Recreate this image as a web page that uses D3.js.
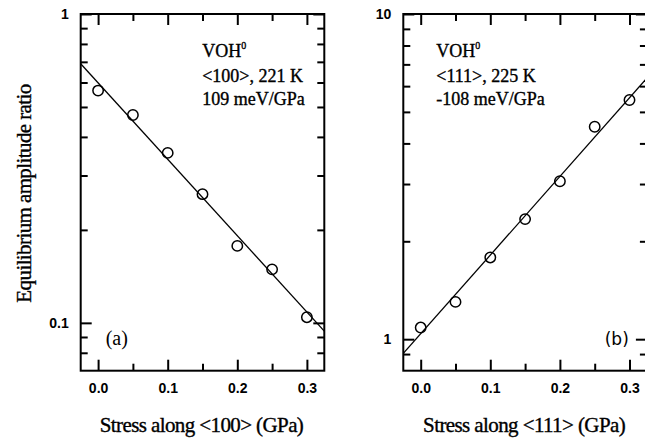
<!DOCTYPE html>
<html>
<head>
<meta charset="utf-8">
<script src="https://cdn.jsdelivr.net/npm/d3@7"></script>
<style>
  body { margin: 0; background: #fff; }
  svg { display: block; font-family: "Liberation Serif", "Times New Roman", serif; }
  .tick text { font-weight: bold; font-size: 14px; fill: #000; }
  .tick line { stroke: #000; stroke-width: 2; }
  .heavy { stroke: #000; stroke-width: 0.35; }
</style>
</head>
<body>
<svg id="chart" width="645" height="438"></svg>
<script>
// stress values (GPa), shared by both panels
const stress = [0.0, 0.05, 0.1, 0.15, 0.2, 0.25, 0.3];

// panel (a): <100>, 221 K
const ratioA = [0.565, 0.471, 0.355, 0.261, 0.1775, 0.149, 0.1043];
const fitStressA = [-0.025, 0.325];
const fitRatioA = [0.69, 0.094];
const yMajorA = [0.1, 1];
const yMinorA = [0.08, 0.09, 0.2, 0.3, 0.4, 0.5, 0.6, 0.7, 0.8, 0.9];
const notesA = ["<100>, 221 K", "109 meV/GPa"];

// panel (b): <111>, 225 K
const ratioB = [1.086, 1.302, 1.784, 2.34, 3.06, 4.50, 5.44];
const fitStressB = [-0.025, 0.325];
const fitRatioB = [0.904, 6.35];
const yMajorB = [1, 10];
const yMinorB = [0.9, 2, 3, 4, 5, 6, 7, 8, 9];
const notesB = ["<111>, 225 K", "-108 meV/GPa"];

const xMajor = [0.0, 0.1, 0.2, 0.3];
const xMinor = [0.05, 0.15, 0.25];

const svg = d3.select("#chart");
svg.append("rect").attr("width", 645).attr("height", 438).attr("fill", "#fff");

const panelW = 243.6, panelH = 356.7;

function drawPanel(opts) {
  const g = svg.append("g").attr("transform", `translate(${opts.left},14)`);

  const x = d3.scaleLinear().domain([-0.025, 0.325]).range([0, panelW]);
  const y = d3.scaleLog().domain(opts.yDomain).range([panelH, 0]);

  const clipId = "clip-" + opts.name;
  g.append("clipPath").attr("id", clipId)
    .append("rect").attr("width", panelW).attr("height", panelH);

  // ticks, all pointing inwards
  const addAxis = (axis, transform) => {
    const a = g.append("g").attr("transform", transform).call(axis);
    a.select(".domain").remove();
    return a;
  };
  addAxis(d3.axisBottom(x).tickValues(xMajor).tickSize(-11).tickPadding(12).tickFormat(d3.format(".1f")),
    `translate(0,${panelH})`);
  addAxis(d3.axisBottom(x).tickValues(xMinor).tickSize(-7).tickFormat(""), `translate(0,${panelH})`);
  addAxis(d3.axisTop(x).tickValues(xMajor).tickSize(-11).tickFormat(""), "translate(0,0)");
  addAxis(d3.axisTop(x).tickValues(xMinor).tickSize(-7).tickFormat(""), "translate(0,0)");
  addAxis(d3.axisLeft(y).tickValues(opts.yMajor).tickSize(-11).tickPadding(12).tickFormat(d3.format("")),
    "translate(0,0)");
  addAxis(d3.axisLeft(y).tickValues(opts.yMinor).tickSize(-7).tickFormat(""), "translate(0,0)");
  addAxis(d3.axisRight(y).tickValues(opts.yMajor).tickSize(-11).tickFormat(""), `translate(${panelW},0)`);
  addAxis(d3.axisRight(y).tickValues(opts.yMinor).tickSize(-7).tickFormat(""), `translate(${panelW},0)`);

  // frame
  g.append("rect")
    .attr("width", panelW).attr("height", panelH)
    .attr("fill", "none").attr("stroke", "#000").attr("stroke-width", 2);

  // fit line
  const fit = opts.fitX.map((d, i) => [d, opts.fitY[i]]);
  g.append("path")
    .attr("clip-path", `url(#${clipId})`)
    .attr("d", d3.line().x(d => x(d[0])).y(d => y(d[1]))(fit))
    .attr("fill", "none").attr("stroke", "#000").attr("stroke-width", 1.3);

  // data points
  g.selectAll("circle.pt")
    .data(stress.map((d, i) => [d, opts.values[i]]))
    .join("circle")
    .attr("class", "pt")
    .attr("cx", d => x(d[0]))
    .attr("cy", d => y(d[1]))
    .attr("r", 5.2)
    .attr("fill", "none").attr("stroke", "#000").attr("stroke-width", 1.5);

  // annotation
  const note = g.append("text").attr("class", "heavy")
    .attr("x", opts.noteX).attr("y", 43).attr("font-size", 18);
  note.append("tspan").text("VOH");
  note.append("tspan").attr("font-size", 10).attr("dy", -8).text("0");
  opts.notes.forEach((t, i) => {
    g.append("text").attr("class", "heavy")
      .attr("x", opts.noteX).attr("y", 67.7 + i * 23.5)
      .attr("font-size", 18).text(t);
  });

  // panel label
  g.append("text")
    .attr("x", opts.labelX).attr("y", 331)
    .attr("font-size", opts.labelSize)
    .attr("font-family", opts.labelFont)
    .attr("text-anchor", opts.labelAnchor)
    .text(opts.label);

  // x title
  g.append("text").attr("class", "heavy")
    .attr("x", panelW / 2 - 1).attr("y", 417.5)
    .attr("text-anchor", "middle")
    .attr("font-size", 21).attr("letter-spacing", -0.6)
    .text(opts.xTitle);
}

drawPanel({
  name: "a", left: 80.7, yDomain: [0.07, 1], values: ratioA,
  fitX: fitStressA, fitY: fitRatioA, yMajor: yMajorA, yMinor: yMinorA,
  notes: notesA, noteX: 121.5,
  label: "(a)", labelX: 25, labelSize: 20, labelFont: "Liberation Serif", labelAnchor: "start",
  xTitle: "Stress along <100> (GPa)"
});

drawPanel({
  name: "b", left: 403.3, yDomain: [0.8, 10], values: ratioB,
  fitX: fitStressB, fitY: fitRatioB, yMajor: yMajorB, yMinor: yMinorB,
  notes: notesB, noteX: 33,
  label: "(b)", labelX: 225.5, labelSize: 17, labelFont: "DejaVu Sans", labelAnchor: "end",
  xTitle: "Stress along <111> (GPa)"
});

// shared y title
svg.append("text").attr("class", "heavy")
  .attr("transform", "translate(31,193.5) rotate(-90)")
  .attr("text-anchor", "middle")
  .attr("font-size", 21).attr("letter-spacing", -0.6)
  .text("Equilibrium amplitude ratio");
</script>
</body>
</html>
